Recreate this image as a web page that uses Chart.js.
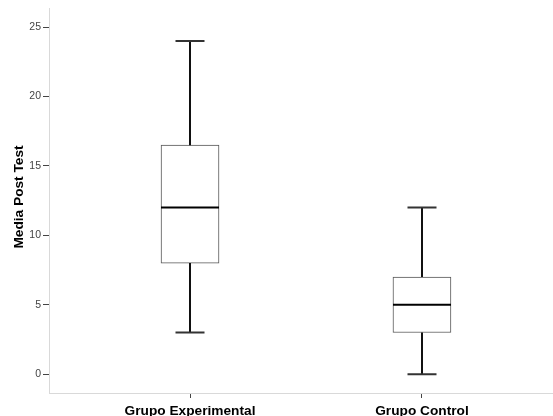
<!DOCTYPE html>
<html>
<head>
<meta charset="utf-8">
<script src="https://cdn.jsdelivr.net/npm/chart.js@4.4.1/dist/chart.umd.min.js"></script>
<style>
  html, body { margin: 0; padding: 0; background: #fff; }
  canvas { display: block; }
</style>
</head>
<body>
<canvas id="c" width="553" height="416"></canvas>
<script>
// Box plot summary per group
const groups = ['Grupo Experimental', 'Grupo Control'];
const whiskerLow = [3, 0];
const q1 = [8, 3];
const median = [12, 5];
const q3 = [16.5, 7];
const whiskerHigh = [24, 12];
const yTicks = [0, 5, 10, 15, 20, 25];
const yTitle = 'Media Post Test';

const FONT = "'Liberation Sans', Arial, sans-serif";
const LABEL_SIZE = 13.7;
const BOX_W = 58;

// Whiskers, caps and median lines, positioned through the chart scales
const boxParts = {
  id: 'boxParts',
  afterDatasetsDraw(chart) {
    const { ctx, scales: { x, y } } = chart;
    ctx.save();
    ctx.lineCap = 'butt';
    groups.forEach((g, i) => {
      const cx = Math.round(x.getPixelForValue(i));
      const yLo = y.getPixelForValue(whiskerLow[i]);
      const yQ1 = y.getPixelForValue(q1[i]);
      const yMed = y.getPixelForValue(median[i]);
      const yQ3 = y.getPixelForValue(q3[i]);
      const yHi = y.getPixelForValue(whiskerHigh[i]);
      ctx.strokeStyle = '#111';
      ctx.lineWidth = 2;
      ctx.beginPath();
      ctx.moveTo(cx, yQ3); ctx.lineTo(cx, yHi);
      ctx.moveTo(cx, yQ1); ctx.lineTo(cx, yLo);
      ctx.stroke();
      ctx.strokeStyle = '#333';
      ctx.beginPath();
      ctx.moveTo(cx - BOX_W / 4, yHi); ctx.lineTo(cx + BOX_W / 4, yHi);
      ctx.moveTo(cx - BOX_W / 4, yLo); ctx.lineTo(cx + BOX_W / 4, yLo);
      ctx.stroke();
      ctx.strokeStyle = '#000';
      ctx.lineWidth = 2;
      ctx.beginPath();
      ctx.moveTo(cx - BOX_W / 2, yMed); ctx.lineTo(cx + BOX_W / 2, yMed);
      ctx.stroke();
    });
    ctx.restore();
  }
};

// Vertical axis title
const axisTitle = {
  id: 'axisTitle',
  afterDraw(chart) {
    const { ctx } = chart;
    ctx.save();
    ctx.translate(19, 197);
    ctx.rotate(-Math.PI / 2);
    ctx.font = 'bold ' + LABEL_SIZE + 'px ' + FONT;
    ctx.fillStyle = '#000';
    ctx.textAlign = 'center';
    ctx.textBaseline = 'middle';
    ctx.fillText(yTitle, 0, 0);
    ctx.restore();
  }
};

new Chart(document.getElementById('c'), {
  type: 'bar',
  data: {
    datasets: [{
      data: groups.map((g, i) => ({ x: i, y: [q1[i], q3[i]] })),
      backgroundColor: '#ffffff',
      borderColor: '#555',
      borderWidth: 1,
      borderSkipped: false,
      barThickness: BOX_W
    }]
  },
  options: {
    responsive: false,
    animation: false,
    layout: { padding: { top: 5, right: 0, left: 0, bottom: 0 } },
    plugins: { legend: { display: false }, tooltip: { enabled: false } },
    scales: {
      x: {
        type: 'linear',
        offset: false,
        min: -0.608,
        max: 1.565,
        afterBuildTicks(s) { s.ticks = groups.map((g, i) => ({ value: i })); },
        afterFit(s) { s.height = 23; },
        ticks: {
          callback: (v) => groups[v],
          font: { family: FONT, size: LABEL_SIZE, weight: 'bold' },
          color: '#000',
          padding: 5,
          maxRotation: 0,
          autoSkip: false
        },
        grid: { display: true, offset: false, drawOnChartArea: false, drawTicks: true, tickLength: 5, tickColor: '#444' },
        border: { display: true, color: '#d9d9d9', width: 1 }
      },
      y: {
        min: -1.36,
        max: 26.36,
        afterBuildTicks(s) { s.ticks = yTicks.map(v => ({ value: v })); },
        afterFit(s) { s.width = 49; },
        ticks: {
          font: { family: FONT, size: 10.5 },
          color: '#444',
          padding: 2
        },
        grid: { display: true, drawOnChartArea: false, drawTicks: true, tickLength: 6, tickColor: '#444' },
        border: { display: true, color: '#d9d9d9', width: 1 }
      }
    }
  },
  plugins: [boxParts, axisTitle]
});
</script>
</body>
</html>
